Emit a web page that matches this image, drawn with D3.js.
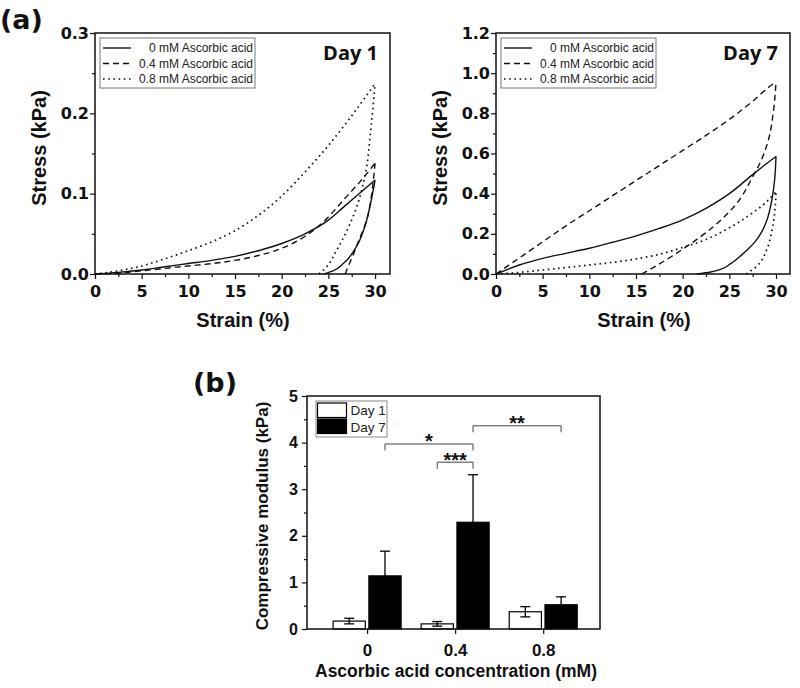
<!DOCTYPE html>
<html><head><meta charset="utf-8">
<script src="https://cdn.jsdelivr.net/npm/d3@7"></script>
<style>body{margin:0;background:#fff}</style></head>
<body>
<svg id="c" width="800" height="688"></svg>
<script>
// ---------- data: panel (a) stress–strain loops [strain %, stress kPa] ----------
const legendLabels = ["0 mM Ascorbic acid", "0.4 mM Ascorbic acid", "0.8 mM Ascorbic acid"];
const strainTicks = [0, 5, 10, 15, 20, 25, 30];
const strainMinor = [2.5, 7.5, 12.5, 17.5, 22.5, 27.5];
const day1StressTicks = [0, 0.1, 0.2, 0.3];
const day1StressMinor = [0.05, 0.15, 0.25];
const day7StressTicks = [0, 0.2, 0.4, 0.6, 0.8, 1.0, 1.2];
const day7StressMinor = [0.1, 0.3, 0.5, 0.7, 0.9, 1.1];

const d1_0_load = [[0,0],[2.5,0.002],[5,0.005],[7.5,0.009],[10,0.013],[12.5,0.017],[15,0.022],[17.5,0.029],[20,0.038],[22.5,0.050],[25,0.067],[26.5,0.082],[28,0.097],[29,0.107],[30,0.117]];
const d1_0_unload = [[24.5,0],[25.5,0.004],[26.6,0.013],[28,0.034],[28.9,0.059],[29.45,0.084],[29.8,0.104],[30,0.117]];
const d1_04_load = [[0,0],[2.5,0.001],[5,0.004],[7.5,0.007],[10,0.010],[12.5,0.013],[15,0.017],[17.5,0.023],[20,0.032],[22.5,0.047],[24,0.060],[25,0.071],[26.6,0.092],[28.4,0.115],[29.8,0.135],[30,0.138]];
const d1_04_unload = [[26.8,0],[27.0,0.006],[27.7,0.025],[28.2,0.040],[29.1,0.067],[29.6,0.096],[29.85,0.12],[30,0.138]];
const d1_08_load = [[0,0],[2.5,0.004],[5,0.010],[7.5,0.019],[10,0.029],[12.5,0.040],[15,0.054],[17.5,0.073],[20,0.097],[22.5,0.127],[25,0.160],[27.5,0.197],[30,0.237]];
const d1_08_unload = [[24.0,0],[24.5,0.005],[25.9,0.03],[27.3,0.062],[28.4,0.097],[29.1,0.134],[29.5,0.175],[29.8,0.21],[30,0.237]];

const d7_0_load = [[0,0],[2.5,0.045],[5,0.078],[7.5,0.103],[10,0.128],[12.5,0.158],[15,0.19],[17.5,0.227],[20,0.27],[22.5,0.327],[25,0.40],[27.5,0.495],[29,0.55],[30,0.585]];
const d7_0_unload = [[21.5,0],[23.0,0.01],[24.0,0.022],[25.1,0.05],[26.1,0.086],[27.1,0.128],[27.9,0.169],[28.5,0.212],[29.0,0.265],[29.55,0.368],[29.85,0.468],[30,0.585]];
const d7_04_load = [[0,0],[2.5,0.08],[5,0.16],[7.5,0.24],[10,0.315],[12.5,0.39],[15,0.465],[17.5,0.54],[20,0.615],[22.5,0.69],[25,0.77],[27.5,0.86],[29.5,0.94],[30,0.955]];
const d7_04_unload = [[15.6,0],[17.9,0.061],[20.4,0.136],[23.3,0.236],[25.8,0.352],[27.4,0.475],[28.5,0.575],[29.2,0.67],[29.7,0.80],[30,0.955]];
const d7_08_load = [[0,0],[2.5,0.008],[5,0.02],[7.5,0.032],[10,0.045],[12.5,0.058],[15,0.075],[17.5,0.098],[20,0.132],[22.5,0.172],[25,0.23],[27.5,0.305],[29,0.36],[30,0.41]];
const d7_08_unload = [[26.8,0],[27.9,0.037],[29.0,0.12],[29.5,0.203],[29.85,0.302],[30,0.41]];

// ---------- data: panel (b) compressive modulus ----------
const concentrations = [0, 0.4, 0.8];
const concLabels = ["0", "0.4", "0.8"];
const days = ["Day 1", "Day 7"];
const day1Mean = [0.17, 0.11, 0.37];
const day1Err = [0.06, 0.05, 0.11];
const day7Mean = [1.14, 2.29, 0.52];
const day7Err = [0.53, 1.02, 0.17];
const modulusTicks = [0, 1, 2, 3, 4, 5];
const modulusMinor = [0.5, 1.5, 2.5, 3.5, 4.5];
const sigFrom = [[0, "Day 7"], [0.4, "Day 1"], [0.4, "Day 7"]];
const sigTo = [[0.4, "Day 7"], [0.4, "Day 7"], [0.8, "Day 7"]];
const sigLevel = [3.97, 3.58, 4.36];
const sigLabel = ["*", "***", "**"];

// ---------- drawing ----------
const svg = d3.select("#c");
const INK = "#111";
const styles = [
  {dash: null, w: 1.4},
  {dash: "6,4", w: 1.4},
  {dash: "1.6,3.6", w: 1.7}
];

function styleAxis(sel, font, size) {
  sel.select(".domain").remove();
  sel.selectAll(".tick line").attr("stroke", INK).attr("stroke-width", 1.2);
  sel.selectAll(".tick text").attr("fill", INK).attr("font-family", font)
     .attr("font-weight", "bold").attr("font-size", size);
}

function stressPanel(cfg) {
  const x = d3.scaleLinear().domain([0, cfg.xMax]).range([cfg.left, cfg.right]);
  const y = d3.scaleLinear().domain([0, cfg.yMax]).range([274, 33]);
  const g = svg.append("g");

  const gx = g.append("g").attr("transform", `translate(0,${y(0)})`);
  gx.call(d3.axisBottom(x).tickValues(strainTicks).tickSize(5).tickPadding(6.5).tickFormat(d3.format("d")));
  styleAxis(gx, "DejaVu Sans", 16);
  const gxm = g.append("g").attr("transform", `translate(0,${y(0)})`);
  gxm.call(d3.axisBottom(x).tickValues(strainMinor).tickSize(3).tickFormat(""));
  styleAxis(gxm, "DejaVu Sans", 16);

  const gy = g.append("g").attr("transform", `translate(${x(0)},0)`);
  gy.call(d3.axisLeft(y).tickValues(cfg.yTicks).tickSize(5).tickPadding(1).tickFormat(d3.format(".1f")));
  styleAxis(gy, "DejaVu Sans", 16);
  const gym = g.append("g").attr("transform", `translate(${x(0)},0)`);
  gym.call(d3.axisLeft(y).tickValues(cfg.yMinor).tickSize(3).tickFormat(""));
  styleAxis(gym, "DejaVu Sans", 16);

  // curves: loading monotone in strain, unloading monotone in stress
  const lineLoad = d3.line().x(d => x(d[0])).y(d => y(d[1])).curve(d3.curveMonotoneX);
  const lineUnload = d3.line().x(d => x(d[0])).y(d => y(d[1])).curve(d3.curveMonotoneY);
  cfg.series.forEach((pair, i) => {
    pair.forEach((arr, k) => {
      g.append("path").datum(arr).attr("d", k === 0 ? lineLoad : lineUnload)
        .attr("fill", "none").attr("stroke", INK)
        .attr("stroke-width", styles[i].w)
        .attr("stroke-dasharray", styles[i].dash);
    });
  });

  // frame
  g.append("rect").attr("x", x(0)).attr("y", y(cfg.yMax))
    .attr("width", x(cfg.xMax) - x(0)).attr("height", y(0) - y(cfg.yMax))
    .attr("fill", "none").attr("stroke", INK).attr("stroke-width", 1.5);

  // legend
  const lx = cfg.left + 5, ly = 38;
  g.append("rect").attr("x", lx).attr("y", ly).attr("width", 155).attr("height", 50)
    .attr("fill", "#fff").attr("stroke", "#777").attr("stroke-width", 1);
  legendLabels.forEach((t, i) => {
    const cy = ly + 10 + i * 15.5;
    g.append("line").attr("x1", lx + 3).attr("x2", lx + 31).attr("y1", cy).attr("y2", cy)
      .attr("stroke", INK).attr("stroke-width", styles[i].w).attr("stroke-dasharray", styles[i].dash);
    g.append("text").attr("x", lx + 153).attr("y", cy + 4.3).attr("text-anchor", "end")
      .attr("font-family", "Liberation Sans, Arial, sans-serif").attr("font-size", 12)
      .attr("fill", "#222").text(t);
  });

  // day label
  g.append("text").attr("x", cfg.right - 12).attr("y", 60).attr("text-anchor", "end")
    .attr("font-family", "Open Sans").attr("font-weight", "bold").attr("font-size", 20)
    .attr("fill", INK).text(cfg.day);

  // axis titles
  g.append("text").attr("x", (x(0) + x(30)) / 2 + 8).attr("y", 327).attr("text-anchor", "middle")
    .attr("font-family", "Liberation Sans, Arial, sans-serif").attr("font-weight", "bold")
    .attr("font-size", 20).attr("fill", INK).text("Strain (%)");
  g.append("text").attr("transform", `translate(${cfg.left - 49},148) rotate(-90)`)
    .attr("text-anchor", "middle")
    .attr("font-family", "Liberation Sans, Arial, sans-serif").attr("font-weight", "bold")
    .attr("font-size", 20).attr("fill", INK).text("Stress (kPa)");
}

stressPanel({left: 95, right: 390, xMax: 31.6, yMax: 0.3,
  yTicks: day1StressTicks, yMinor: day1StressMinor, day: "Day 1",
  series: [[d1_0_load, d1_0_unload], [d1_04_load, d1_04_unload], [d1_08_load, d1_08_unload]]});
stressPanel({left: 496, right: 790, xMax: 31.5, yMax: 1.2,
  yTicks: day7StressTicks, yMinor: day7StressMinor, day: "Day 7",
  series: [[d7_0_load, d7_0_unload], [d7_04_load, d7_04_unload], [d7_08_load, d7_08_unload]]});

// panel letters
svg.append("text").attr("x", 0).attr("y", 29).attr("font-family", "DejaVu Sans")
  .attr("font-weight", "bold").attr("font-size", 27).attr("fill", INK).text("(a)");
svg.append("text").attr("x", 193).attr("y", 392).attr("font-family", "DejaVu Sans")
  .attr("font-weight", "bold").attr("font-size", 27).attr("fill", INK).text("(b)");

// ---------- panel (b) ----------
(function () {
  const x = d3.scaleLinear().domain([-0.273, 1.058]).range([307, 600]);
  const y = d3.scaleLinear().domain([0, 5]).range([629, 396]);
  const sub = d3.scaleBand().domain(days).range([-34, 34]).paddingInner(0.1);
  const g = svg.append("g");
  const font = "Liberation Sans, Arial, sans-serif";

  const gx = g.append("g").attr("transform", `translate(0,${y(0)})`);
  gx.call(d3.axisBottom(x).tickValues(concentrations).tickSize(5).tickPadding(10)
    .tickFormat((d, i) => concLabels[i]));
  styleAxis(gx, font, 17);
  const gy = g.append("g").attr("transform", `translate(307,0)`);
  gy.call(d3.axisLeft(y).tickValues(modulusTicks).tickSize(5).tickPadding(4).tickFormat(d3.format("d")));
  styleAxis(gy, font, 16);
  const gym = g.append("g").attr("transform", `translate(307,0)`);
  gym.call(d3.axisLeft(y).tickValues(modulusMinor).tickSize(3).tickFormat(""));
  styleAxis(gym, font, 16);

  const series = [
    {day: "Day 1", mean: day1Mean, err: day1Err, fill: "#fff", both: true},
    {day: "Day 7", mean: day7Mean, err: day7Err, fill: "#000", both: false}
  ];
  const cx = (c, day) => x(c) + sub(day) + sub.bandwidth() / 2;
  series.forEach(s => {
    concentrations.forEach((c, i) => {
      const bx = x(c) + sub(s.day);
      g.append("rect").attr("x", bx).attr("y", y(s.mean[i]))
        .attr("width", sub.bandwidth()).attr("height", y(0) - y(s.mean[i]))
        .attr("fill", s.fill).attr("stroke", "#000").attr("stroke-width", 1.2);
      const mx = cx(c, s.day);
      const top = y(s.mean[i] + s.err[i]);
      const bot = s.both ? y(s.mean[i] - s.err[i]) : y(s.mean[i]);
      g.append("line").attr("x1", mx).attr("x2", mx).attr("y1", top).attr("y2", bot)
        .attr("stroke", "#000").attr("stroke-width", 1.3);
      g.append("line").attr("x1", mx - 5).attr("x2", mx + 5).attr("y1", top).attr("y2", top)
        .attr("stroke", "#000").attr("stroke-width", 1.3);
      if (s.both) {
        g.append("line").attr("x1", mx - 5).attr("x2", mx + 5).attr("y1", bot).attr("y2", bot)
          .attr("stroke", "#000").attr("stroke-width", 1.3);
      }
    });
  });

  // significance brackets
  sigLevel.forEach((lv, i) => {
    const x1 = cx(sigFrom[i][0], sigFrom[i][1]);
    const x2 = cx(sigTo[i][0], sigTo[i][1]);
    const yy = y(lv);
    g.append("path").attr("d", `M${x1},${yy + 6.5}V${yy}H${x2}V${yy + 6.5}`)
      .attr("fill", "none").attr("stroke", "#444").attr("stroke-width", 1);
    g.append("text").attr("x", (x1 + x2) / 2).attr("y", yy + 4.5).attr("text-anchor", "middle")
      .attr("font-family", font).attr("font-weight", "bold").attr("font-size", 20)
      .attr("fill", INK).text(sigLabel[i]);
  });

  // frame
  g.append("rect").attr("x", 307).attr("y", 396).attr("width", 293).attr("height", 233)
    .attr("fill", "none").attr("stroke", INK).attr("stroke-width", 1.5);

  // legend
  g.append("rect").attr("x", 316).attr("y", 401).attr("width", 71).attr("height", 36)
    .attr("fill", "#fff").attr("stroke", "#888").attr("stroke-width", 1);
  series.forEach((s, i) => {
    g.append("rect").attr("x", 317.5).attr("y", 403 + i * 16).attr("width", 29).attr("height", 14.5)
      .attr("fill", s.fill).attr("stroke", "#000").attr("stroke-width", 1.2);
    g.append("text").attr("x", 350.5).attr("y", 415 + i * 16.5).attr("font-family", font)
      .attr("font-size", 13.5).attr("fill", "#222").text(s.day);
  });

  // titles
  g.append("text").attr("x", 456).attr("y", 677).attr("text-anchor", "middle")
    .attr("font-family", font).attr("font-weight", "bold").attr("font-size", 17.5)
    .attr("fill", INK).text("Ascorbic acid concentration (mM)");
  g.append("text").attr("transform", "translate(268,516) rotate(-90)").attr("text-anchor", "middle")
    .attr("font-family", font).attr("font-weight", "bold").attr("font-size", 17)
    .attr("fill", INK).text("Compressive modulus (kPa)");
})();
</script>
</body></html>
